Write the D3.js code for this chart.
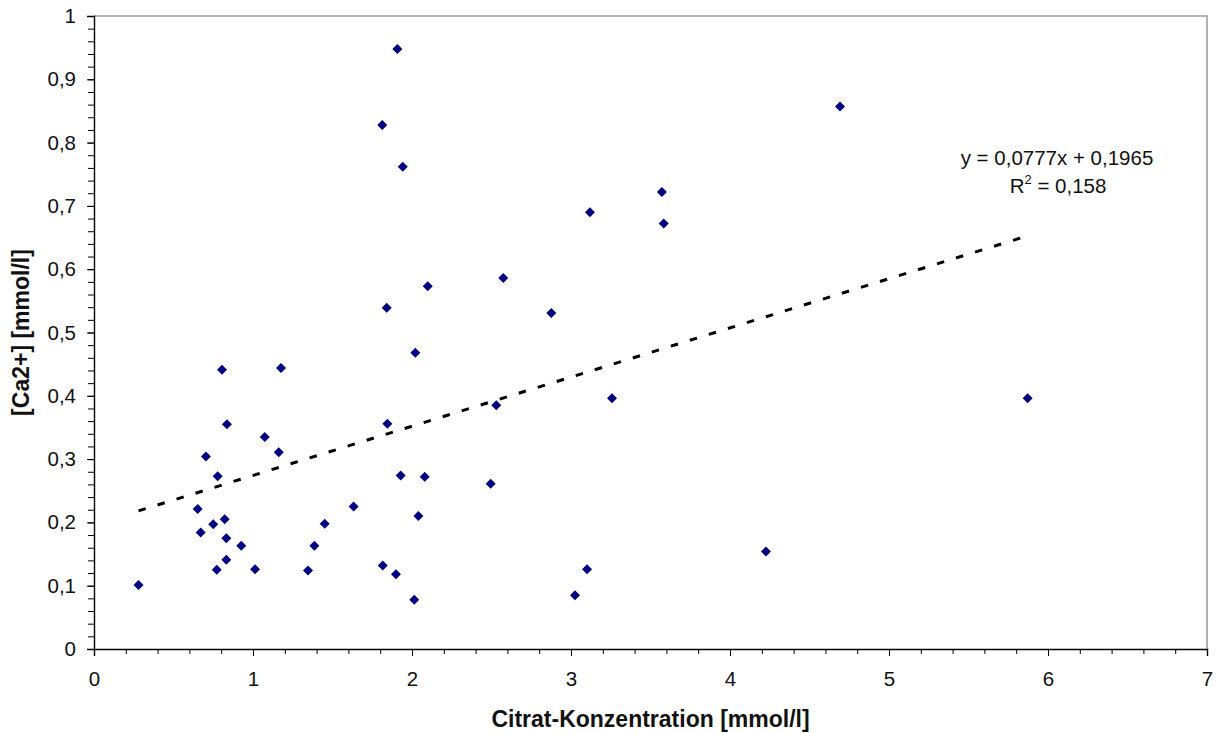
<!DOCTYPE html>
<html>
<head>
<meta charset="utf-8">
<script src="https://cdn.jsdelivr.net/npm/d3@7"></script>
<style>
  html, body { margin: 0; padding: 0; background: #fff; }
  svg { display: block; font-family: "Liberation Sans", Arial, sans-serif; }
</style>
</head>
<body>
<div id="chart"></div>
<script>
// data
const citrat = [
  0.28, 0.652, 0.671, 0.704, 0.750, 0.772, 0.778, 0.805, 0.822, 0.832,
  0.832, 0.836, 0.926, 1.013, 1.074, 1.162, 1.176, 1.346, 1.386, 1.451,
  1.633, 1.816, 1.813, 1.841, 1.845, 1.899, 1.908, 1.929, 1.942, 2.014,
  2.021, 2.040, 2.080, 2.099, 2.495, 2.530, 2.574, 2.876, 3.025, 3.101,
  3.119, 3.258, 3.572, 3.583, 4.226, 4.692, 5.872
];
const calcium = [
  0.101, 0.221, 0.184, 0.304, 0.197, 0.125, 0.273, 0.441, 0.205, 0.175,
  0.141, 0.355, 0.163, 0.126, 0.335, 0.311, 0.444, 0.124, 0.163, 0.198,
  0.225, 0.132, 0.828, 0.539, 0.356, 0.118, 0.948, 0.274, 0.762, 0.078,
  0.468, 0.210, 0.272, 0.573, 0.261, 0.385, 0.586, 0.531, 0.085, 0.126,
  0.690, 0.396, 0.722, 0.672, 0.154, 0.857, 0.396
];
const xTicks = [0, 1, 2, 3, 4, 5, 6, 7];
const yTicks = [0, 0.1, 0.2, 0.3, 0.4, 0.5, 0.6, 0.7, 0.8, 0.9, 1];
const trendSlope = 0.0777;
const trendIntercept = 0.1965;
const trendR2 = 0.158;

const width = 1218, height = 733;
const margin = { top: 16, right: 11, bottom: 84, left: 94 };
const plotW = width - margin.left - margin.right;
const plotH = height - margin.top - margin.bottom;

const de = d3.formatLocale({ decimal: ",", thousands: ".", grouping: [3], currency: ["", " €"] });
const fmtTick = d => (d === 0 || d === 1) ? String(d) : de.format(".1f")(d);

const svg = d3.select("#chart").append("svg")
  .attr("width", width).attr("height", height);

svg.append("rect").attr("width", width).attr("height", height).attr("fill", "#fff");

const g = svg.append("g").attr("transform", `translate(${margin.left},${margin.top})`);

const x = d3.scaleLinear().domain([0, 7]).range([0, plotW]);
const y = d3.scaleLinear().domain([0, 1]).range([plotH, 0]);

// gray frame on top and right
g.append("path")
  .attr("d", `M0,0H${plotW}V${plotH}`)
  .attr("fill", "none").attr("stroke", "#9a9a9a").attr("stroke-width", 1.5);

// minor ticks
const xMinor = d3.range(0, 7.001, 0.2);
const yMinor = d3.range(0, 1.001, 0.02);

g.append("g")
  .attr("transform", `translate(0,${plotH})`)
  .call(d3.axisBottom(x).tickValues(xMinor).tickSize(5).tickFormat(""))
  .call(a => a.select(".domain").remove())
  .selectAll("line").attr("stroke", "#000");

g.append("g")
  .call(d3.axisLeft(y).tickValues(yMinor).tickSize(6).tickFormat(""))
  .call(a => a.select(".domain").remove())
  .selectAll("line").attr("stroke", "#000");

// major axes
const xAxis = g.append("g")
  .attr("transform", `translate(0,${plotH})`)
  .call(d3.axisBottom(x).tickValues(xTicks).tickSize(7).tickPadding(15).tickFormat(d => d));
const yAxis = g.append("g")
  .call(d3.axisLeft(y).tickValues(yTicks).tickSize(7).tickPadding(11).tickFormat(fmtTick));

[xAxis, yAxis].forEach(a => {
  a.select(".domain").attr("stroke", "#000").attr("stroke-width", 1.4);
  a.selectAll(".tick line").attr("stroke", "#000");
  a.selectAll(".tick text")
    .attr("fill", "#111")
    .style("font-size", "20.5px")
    .style("font-family", "'Liberation Sans', Arial, sans-serif");
});

// trendline over the range of the data
const xr = d3.extent(citrat);
g.append("path")
  .datum(xr.map(v => [v, trendSlope * v + trendIntercept]))
  .attr("d", d3.line().x(d => x(d[0])).y(d => y(d[1])))
  .attr("fill", "none")
  .attr("stroke", "#000")
  .attr("stroke-width", 3)
  .attr("stroke-dasharray", "7.5,12.4");

// markers
const diamond = d3.symbol(d3.symbolSquare, 50);
g.append("g").selectAll("path")
  .data(citrat.map((c, i) => [c, calcium[i]]))
  .join("path")
  .attr("d", diamond)
  .attr("transform", d => `translate(${x(d[0])},${y(d[1])}) rotate(45)`)
  .attr("fill", "#000080");

// trendline label
const eq = g.append("text")
  .attr("text-anchor", "middle")
  .attr("fill", "#111")
  .style("font-size", "20.5px");
eq.append("tspan")
  .attr("x", 963).attr("y", 149)
  .text(`y = ${de.format(".4f")(trendSlope)}x + ${de.format(".4f")(trendIntercept)}`);
const r2 = eq.append("tspan").attr("x", 964).attr("y", 177);
r2.append("tspan").text("R");
r2.append("tspan").attr("dy", -9).style("font-size", "13px").text("2");
r2.append("tspan").attr("dy", 9).text(` = ${de.format(".3f")(trendR2)}`);

// axis titles
svg.append("text")
  .attr("x", margin.left + plotW / 2).attr("y", 727)
  .attr("text-anchor", "middle")
  .style("font-size", "23px").style("font-weight", "bold")
  .attr("fill", "#111")
  .text("Citrat-Konzentration [mmol/l]");

svg.append("text")
  .attr("transform", `translate(29,${margin.top + plotH / 2}) rotate(-90)`)
  .attr("text-anchor", "middle")
  .style("font-size", "23px").style("font-weight", "bold")
  .attr("fill", "#111")
  .text("[Ca2+] [mmol/l]");
</script>
</body>
</html>
